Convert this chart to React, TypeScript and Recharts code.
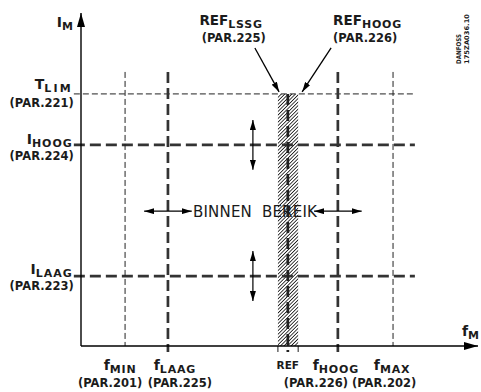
import { ComposedChart, XAxis, YAxis, ReferenceLine, ReferenceArea, ReferenceDot, Scatter } from "recharts";

// x = motor frequency f_M, y = motor current I_M, both on a relative 0-100 scale
const FREQ_NAMES = ["MIN", "LAAG", "HOOG", "MAX"];
const FREQ_VALUES = [11.1, 21.9, 64.7, 78.6];
const FREQ_PARAMS = ["(PAR.201)", "(PAR.225)", "(PAR.226)", "(PAR.202)"];

const REF_NAMES = ["LSSG", "HOOG"];
const REF_LIMITS = [49.6, 54.7];
const REF_VALUE = 52.1;
const REF_PARAMS = ["(PAR.225)", "(PAR.226)"];

const CURRENT_SYMBOLS = ["T", "I", "I"];
const CURRENT_NAMES = ["LIM", "HOOG", "LAAG"];
const CURRENT_VALUES = [75.7, 60.4, 21.0];
const CURRENT_PARAMS = ["(PAR.221)", "(PAR.224)", "(PAR.223)"];

const RANGE_TEXT = "BINNEN  BEREIK";

// drawing extents (data units)
const GUIDE_TOP = 82.3;
const GUIDE_RIGHT = 84.1;
const OVERHANG = -1.8;
const RANGE_F = 43.3;
const RANGE_I = 40.5;
const RANGE_HALF_F = 6;
const RANGE_HALF_I = 7.5;
// pointer arrows: start and tip offsets from each band edge
const POINTER_START = [-5.8, 8.3];
const POINTER_TIP = [0.3, 1.0];
const POINTER_Y = 89.5;

const INK = "#1b1b1b";
const THIN = { stroke: "#222", strokeWidth: 1, strokeDasharray: "6 3" };
const THICK = { stroke: "#333", strokeWidth: 2.7, strokeDasharray: "11 5" };
const FREQ_STYLE = [THIN, THICK, THICK, THIN];
const CURRENT_STYLE = [THIN, THICK, THICK];
const FONT = { fontFamily: "'DejaVu Sans', sans-serif", fontWeight: 700, fill: INK };

const CURRENT_MAIN_DY = [-5, -1, -2];
const CURRENT_PAR_DY = [13, 15, 14];
const CURRENT_SPACING = [2.2, 1, 1];
const FREQ_MAIN_DX = [-5, 7, -2, -1];
const FREQ_PAR_DX = [-15, 12, -22, -9];

// guide crossings with the frequency axis, used as the (invisible) scatter series
const crossings = FREQ_VALUES.map((f) => ({ f, i: 0 }));

const line = (extra: any) => (p: any) => (
  <line x1={p.x1} y1={p.y1} x2={p.x2} y2={p.y2} {...extra} />
);

function Sub({ main, sub, size = 14, subSize = 11, dy = 3, spacing = 0.8 }: any) {
  return (
    <>
      <tspan fontSize={size}>{main}</tspan>
      <tspan fontSize={subSize} dy={dy} letterSpacing={spacing}>{sub}</tspan>
    </>
  );
}

export default function App() {
  const tLim = CURRENT_VALUES[0];
  return (
    <div style={{ position: "absolute", left: 0, top: 0, width: 481, height: 392, background: "#fff" }}>
      <ComposedChart width={481} height={392} margin={{ top: 13, right: 3, bottom: 46, left: 81 }} data={crossings}>
        <defs>
          <pattern id="hatch" patternUnits="userSpaceOnUse" width="2.5" height="2.5" patternTransform="rotate(45)">
            <line x1="0" y1="0" x2="0" y2="2.5" stroke="#000" strokeWidth="1.5" />
          </pattern>
          <marker id="axisHead" markerUnits="userSpaceOnUse" markerWidth="14" markerHeight="8" refX="14" refY="4" orient="auto">
            <path d="M0,0 L14,4 L0,8 Z" fill="#000" />
          </marker>
          <marker id="head" markerUnits="userSpaceOnUse" markerWidth="10" markerHeight="6" refX="10" refY="3" orient="auto-start-reverse">
            <path d="M0,0 L10,3 L0,6 Z" fill="#000" />
          </marker>
        </defs>
        <XAxis type="number" dataKey="f" domain={[0, 100]} allowDataOverflow hide />
        <YAxis type="number" dataKey="i" domain={[0, 100]} allowDataOverflow hide />
        <Scatter dataKey="i" fill="none" isAnimationActive={false} shape={() => <g />} />

        <ReferenceArea x1={REF_LIMITS[0]} x2={REF_LIMITS[1]} y1={0} y2={tLim} fill="url(#hatch)" fillOpacity={1} stroke="none" ifOverflow="visible" />

        {CURRENT_VALUES.map((v, i) => (
          <ReferenceLine key={"c" + i} segment={[{ x: OVERHANG, y: v }, { x: GUIDE_RIGHT, y: v }]} ifOverflow="visible" shape={line(CURRENT_STYLE[i])} />
        ))}
        {FREQ_VALUES.map((v, i) => (
          <ReferenceLine
            key={"f" + i}
            segment={[{ x: v, y: GUIDE_TOP }, { x: v, y: FREQ_STYLE[i] === THICK ? OVERHANG : 0 }]}
            ifOverflow="visible"
            shape={line(FREQ_STYLE[i])}
          />
        ))}
        <ReferenceLine segment={[{ x: REF_VALUE, y: tLim }, { x: REF_VALUE, y: OVERHANG }]} ifOverflow="visible" shape={line({ ...THICK, stroke: "#222" })} />
        {REF_LIMITS.map((v, i) => (
          <ReferenceLine key={"t" + i} segment={[{ x: v, y: 0 }, { x: v, y: OVERHANG }]} ifOverflow="visible" shape={line({ stroke: INK, strokeWidth: 1 })} />
        ))}

        {/* axes */}
        <ReferenceLine segment={[{ x: 0, y: 0 }, { x: 0, y: 100 }]} ifOverflow="visible" shape={line({ stroke: "#000", strokeWidth: 1.4, markerEnd: "url(#axisHead)" })} />
        <ReferenceLine segment={[{ x: 0, y: 0 }, { x: 100, y: 0 }]} ifOverflow="visible" shape={line({ stroke: "#000", strokeWidth: 1.4, markerEnd: "url(#axisHead)" })} />

        {/* range arrows */}
        {[FREQ_VALUES[1], FREQ_VALUES[2]].map((v, i) => (
          <ReferenceLine key={"rh" + i} segment={[{ x: v - RANGE_HALF_F, y: RANGE_I }, { x: v + RANGE_HALF_F, y: RANGE_I }]} ifOverflow="visible"
            shape={line({ stroke: "#000", strokeWidth: 1.2, markerStart: "url(#head)", markerEnd: "url(#head)" })} />
        ))}
        {[CURRENT_VALUES[1], CURRENT_VALUES[2]].map((v, i) => (
          <ReferenceLine key={"rv" + i} segment={[{ x: RANGE_F, y: v + RANGE_HALF_I }, { x: RANGE_F, y: v - RANGE_HALF_I }]} ifOverflow="visible"
            shape={line({ stroke: "#000", strokeWidth: 1.2, markerStart: "url(#head)", markerEnd: "url(#head)" })} />
        ))}

        {/* pointers to the reference band */}
        {REF_LIMITS.map((v, i) => (
          <ReferenceLine key={"p" + i} segment={[{ x: v + POINTER_START[i], y: POINTER_Y }, { x: v + POINTER_TIP[i], y: tLim + 0.6 }]} ifOverflow="visible"
            shape={line({ stroke: "#000", strokeWidth: 1.3, markerEnd: "url(#head)" })} />
        ))}

        {/* labels */}
        {CURRENT_VALUES.map((v, i) => (
          <ReferenceDot key={"cl" + i} x={OVERHANG} y={v} r={1} ifOverflow="visible"
            shape={(p: any) => (
              <g>
                <text x={p.cx - 1} y={p.cy + CURRENT_MAIN_DY[i]} textAnchor="end" {...FONT}>
                  <Sub main={CURRENT_SYMBOLS[i]} sub={CURRENT_NAMES[i]} spacing={CURRENT_SPACING[i]} />
                </text>
                <text x={p.cx} y={p.cy + CURRENT_PAR_DY[i]} textAnchor="end" fontSize={11.5} {...FONT}>{CURRENT_PARAMS[i]}</text>
              </g>
            )} />
        ))}
        {FREQ_VALUES.map((v, i) => (
          <ReferenceDot key={"fl" + i} x={v} y={0} r={1} ifOverflow="visible"
            shape={(p: any) => (
              <g>
                <text x={p.cx + FREQ_MAIN_DX[i]} y={p.cy + 24} textAnchor="middle" {...FONT}>
                  <Sub main="f" sub={FREQ_NAMES[i]} />
                </text>
                <text x={p.cx + FREQ_PAR_DX[i]} y={p.cy + 41} textAnchor="middle" fontSize={11.5} {...FONT}>{FREQ_PARAMS[i]}</text>
              </g>
            )} />
        ))}
        <ReferenceDot x={REF_VALUE} y={0} r={1} ifOverflow="visible"
          shape={(p: any) => <text x={p.cx} y={p.cy + 23} textAnchor="middle" fontSize={10.5} {...FONT}>REF</text>} />
        {REF_LIMITS.map((v, i) => (
          <ReferenceDot key={"rl" + i} x={v + POINTER_START[i]} y={POINTER_Y} r={1} ifOverflow="visible"
            shape={(p: any) => (
              <g>
                <text x={p.cx + (i === 0 ? 8 : 2)} y={p.cy - 23} textAnchor={i === 0 ? "end" : "start"} {...FONT}>
                  <Sub main="REF" sub={REF_NAMES[i]} size={13.5} subSize={11} dy={3} />
                </text>
                <text x={p.cx + (i === 0 ? 11 : 2)} y={p.cy - 6} textAnchor={i === 0 ? "end" : "start"} fontSize={11.5} {...FONT}>{REF_PARAMS[i]}</text>
              </g>
            )} />
        ))}
        <ReferenceDot x={RANGE_F} y={RANGE_I} r={1} ifOverflow="visible"
          shape={(p: any) => (
            <text x={p.cx + 2} y={p.cy + 6} textAnchor="middle" fontSize={15} fontFamily="'DejaVu Sans', sans-serif" fill={INK} textLength={124} lengthAdjust="spacing" style={{ whiteSpace: "pre" }}>
              {RANGE_TEXT}
            </text>
          )} />
        <ReferenceDot x={0} y={100} r={1} ifOverflow="visible"
          shape={(p: any) => (
            <text x={p.cx - 8} y={p.cy + 14} textAnchor="end" {...FONT}>
              <Sub main="I" sub="M" spacing={0} />
            </text>
          )} />
        <ReferenceDot x={100} y={0} r={1} ifOverflow="visible"
          shape={(p: any) => (
            <text x={p.cx + 1} y={p.cy - 10} textAnchor="end" {...FONT}>
              <Sub main="f" sub="M" spacing={0} />
            </text>
          )} />
        <ReferenceDot x={100} y={100} r={1} ifOverflow="visible"
          shape={(p: any) => (
            <g transform={`translate(${p.cx - 9} ${p.cy + 51}) rotate(-90)`}>
              <text x={0} y={-8} fontSize={6.5} textLength={30} lengthAdjust="spacingAndGlyphs" {...FONT}>DANFOSS</text>
              <text x={0} y={0} fontSize={6.5} textLength={50} lengthAdjust="spacingAndGlyphs" {...FONT}>175ZA036.10</text>
            </g>
          )} />
      </ComposedChart>
    </div>
  );
}
